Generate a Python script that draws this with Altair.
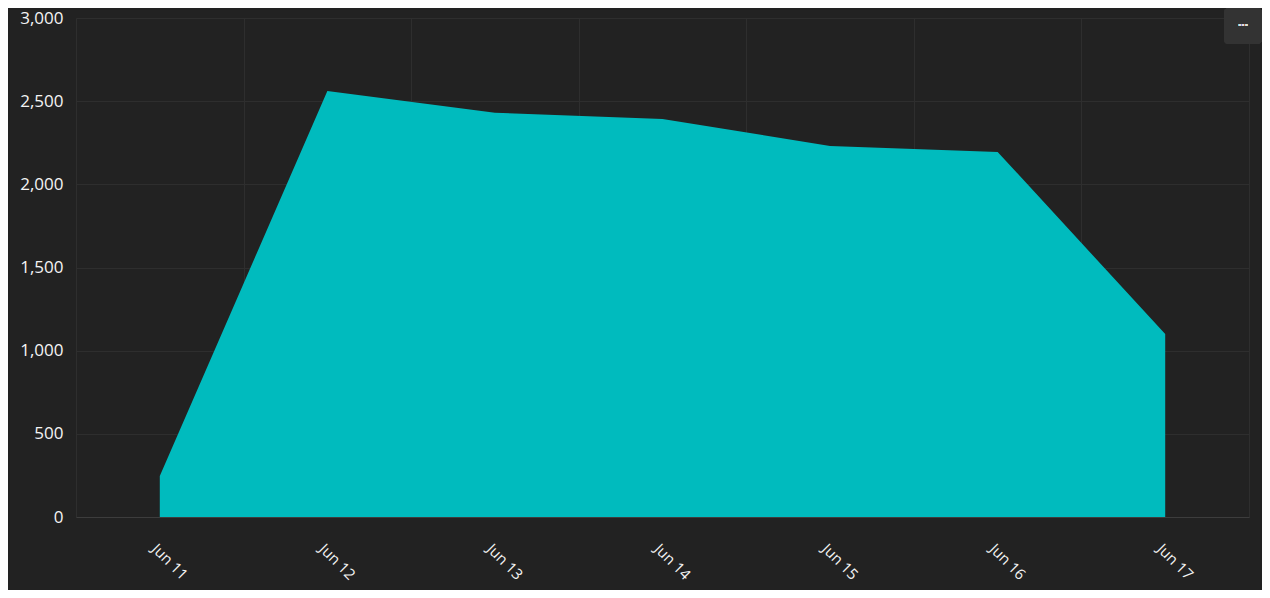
import altair as alt
import pandas as pd

dates = ["Jun 11", "Jun 12", "Jun 13", "Jun 14", "Jun 15", "Jun 16", "Jun 17"]
values = [246, 2561, 2430, 2393, 2231, 2195, 1100]
y_ticks = [0, 500, 1000, 1500, 2000, 2500, 3000]

df = pd.DataFrame({"date": dates, "value": values})

area = alt.Chart(df).mark_area(color="#00BBBE", opacity=1).encode(
    x=alt.X(
        "date:O",
        sort=dates,
        bandPosition=0.5,
        scale=alt.Scale(type="band", paddingInner=0, paddingOuter=0),
        axis=alt.Axis(
            title=None,
            grid=True,
            tickBand="extent",
            ticks=False,
            labelAngle=45,
            labelAlign="left",
            labelBaseline="top",
            labelPadding=24,
            labelOffset=-1,
            labelFont="Open Sans",
            labelFontSize=15,
            labelColor="#f4f4f4",
            gridColor="#2e2e2e",
            domainColor="#3d3d3d",
        ),
    ),
    y=alt.Y(
        "value:Q",
        scale=alt.Scale(domain=[0, 3000], nice=False),
        axis=alt.Axis(
            title=None,
            values=y_ticks,
            format=",d",
            ticks=False,
            domain=False,
            labelPadding=13,
            labelFont="Open Sans",
            labelFontSize=17,
            labelColor="#f4f4f4",
            gridColor="#2e2e2e",
        ),
    ),
)

# menu button ("...") in the top-right corner
button = alt.Chart(df).mark_rect(color="#333333", cornerRadius=4).encode(
    x=alt.value(1148), x2=alt.value(1186), y=alt.value(-10), y2=alt.value(26)
)
button_text = alt.Chart(df).mark_text(
    text="...", color="#dddddd", font="Open Sans", fontSize=12, fontWeight="bold", baseline="bottom"
).encode(x=alt.value(1167), y=alt.value(11))

chart = alt.layer(area, button, button_text).properties(
    width=1173,
    height=499,
    autosize=alt.AutoSizeParams(type="none"),
    padding={"left": 68, "top": 10, "right": 13, "bottom": 73},
).configure(
    background="#222222",
).configure_view(
    stroke=None,
)

chart.save("out.html", embed_options={"renderer": "svg", "actions": False})
